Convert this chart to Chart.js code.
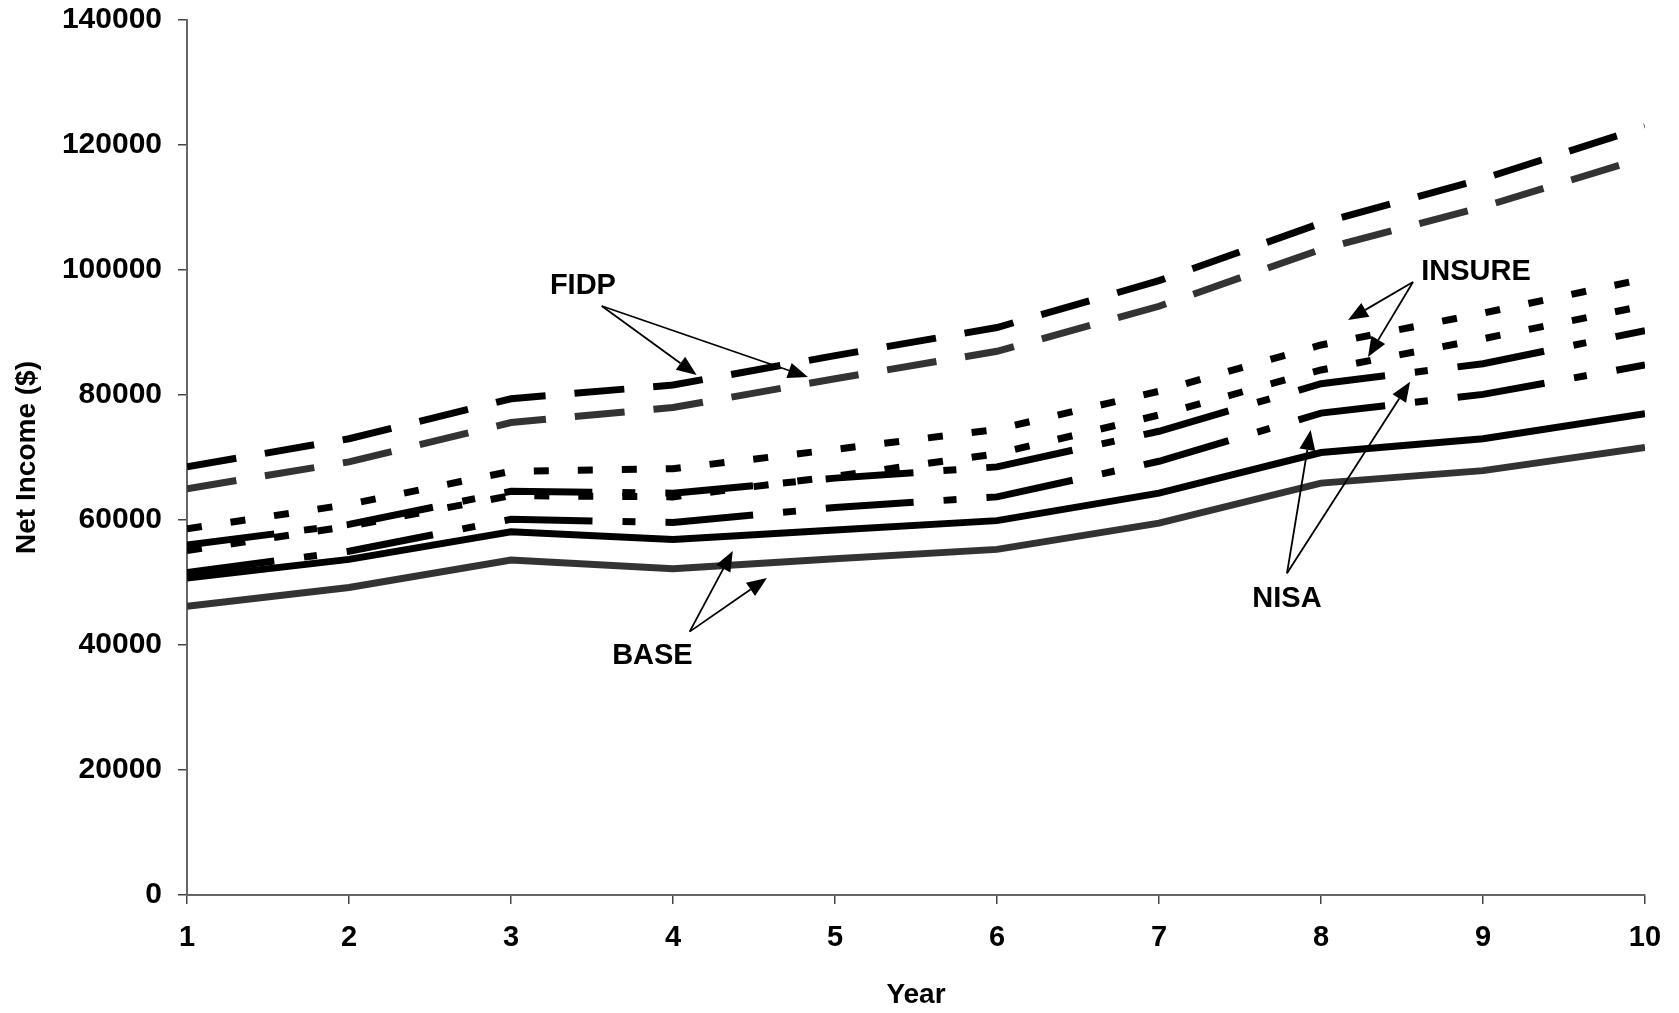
<!DOCTYPE html>
<html>
<head>
<meta charset="utf-8">
<script src="https://cdn.jsdelivr.net/npm/chart.js@4.4.1/dist/chart.umd.min.js"></script>
<style>
    html, body { margin: 0; padding: 0; background: #fff; }
    #wrap { width: 1679px; height: 1013px; }
</style>
</head>
<body>
<div id="wrap"><canvas id="incomeChart" width="1679" height="1013"></canvas></div>
<script>
// Net income by year, one array per scenario
const years = [1, 2, 3, 4, 5, 6, 7, 8, 9, 10];
const fidpHigh   = [68500, 73000, 79400, 81600, 86300, 90800, 98300, 107500, 114600, 122900];
const fidpLow    = [65000, 69300, 75600, 78000, 82600, 87000, 94200, 103300, 110100, 118000];
const insureHigh = [58600, 62500, 67800, 68200, 71300, 74500, 80600, 88000, 93100, 98600];
const insureLow  = [55100, 59000, 63900, 63700, 67000, 70600, 76800, 84000, 89000, 94300];
const nisaHigh   = [56000, 59300, 64600, 64300, 66700, 68500, 74200, 81800, 85000, 90300];
const nisaLow    = [51600, 55000, 60100, 59600, 62000, 63700, 69400, 77100, 80100, 84800];
const baseHigh   = [50700, 53700, 58100, 56900, 58400, 59900, 64300, 70800, 73000, 77000];
const baseLow    = [46200, 49200, 53600, 52200, 53800, 55300, 59500, 65900, 67900, 71600];
const yTicks = [0, 20000, 40000, 60000, 80000, 100000, 120000, 140000];

const FONT = '"Liberation Sans", Arial, sans-serif';
const BLACK = '#000000';
const GREY = '#333333';

function series(values, color, dash) {
    return {
        data: values.map((v, i) => ({ x: years[i], y: v })),
        borderColor: color,
        borderWidth: 7,
        borderDash: dash,
        borderCapStyle: 'butt',
        pointRadius: 0,
        tension: 0,
        fill: false
    };
}

// text labels with arrows, placed in data units (year, income)
const notes = [
    { text: 'FIDP',   at: [3.444, 97440], from: [3.56, 94240],  to: [[4.146, 83200], [4.833, 82880]] },
    { text: 'INSURE', at: [8.957, 99680], from: [8.568, 98080], to: [[8.167, 92000], [8.29, 86080]] },
    { text: 'NISA',   at: [7.79, 47440],  from: [7.79, 51470],  to: [[7.936, 74400], [8.55, 82130]] },
    { text: 'BASE',   at: [3.873, 38240], from: [4.103, 42140], to: [[4.369, 55040], [4.58, 50720]] }
];

const arrowNotes = {
    id: 'arrowNotes',
    afterDatasetsDraw(chart) {
        const { ctx, scales: { x, y } } = chart;
        ctx.save();
        ctx.fillStyle = '#000';
        ctx.strokeStyle = '#000';
        ctx.lineWidth = 1.8;
        ctx.font = 'bold 29px ' + FONT;
        ctx.textAlign = 'center';
        ctx.textBaseline = 'middle';
        notes.forEach(n => {
            ctx.fillText(n.text, x.getPixelForValue(n.at[0]), y.getPixelForValue(n.at[1]));
            const x0 = x.getPixelForValue(n.from[0]);
            const y0 = y.getPixelForValue(n.from[1]);
            n.to.forEach(t => {
                const x1 = x.getPixelForValue(t[0]);
                const y1 = y.getPixelForValue(t[1]);
                const ang = Math.atan2(y1 - y0, x1 - x0);
                const head = 20, half = 8;
                const bx = x1 - head * Math.cos(ang);
                const by = y1 - head * Math.sin(ang);
                ctx.beginPath();
                ctx.moveTo(x0, y0);
                ctx.lineTo(bx, by);
                ctx.stroke();
                ctx.beginPath();
                ctx.moveTo(x1, y1);
                ctx.lineTo(bx + half * Math.sin(ang), by - half * Math.cos(ang));
                ctx.lineTo(bx - half * Math.sin(ang), by + half * Math.cos(ang));
                ctx.closePath();
                ctx.fill();
            });
        });
        ctx.restore();
    }
};

const longDash = [50, 29];
const shortDash = [15, 29];
const dashDot = [88, 30, 13, 30];

const ctx = document.getElementById('incomeChart').getContext('2d');
const incomeChart = new Chart(ctx, {
    type: 'line',
    data: {
        datasets: [
            series(baseLow, GREY, []),
            series(baseHigh, BLACK, []),
            series(nisaLow, BLACK, dashDot),
            series(nisaHigh, BLACK, dashDot),
            series(insureLow, BLACK, shortDash),
            series(insureHigh, BLACK, shortDash),
            series(fidpLow, GREY, longDash),
            series(fidpHigh, BLACK, longDash)
        ]
    },
    options: {
        responsive: false,
        animation: false,
        devicePixelRatio: 1,
        layout: { padding: { top: 20, right: 34, left: 0, bottom: 0 } },
        plugins: { legend: { display: false }, tooltip: { enabled: false } },
        scales: {
            x: {
                type: 'linear',
                min: 1,
                max: 10,
                afterFit: scale => {
                    scale.height = 118;
                    scale.paddingLeft = 0;
                    scale.paddingRight = 0;
                },
                ticks: {
                    stepSize: 1,
                    color: '#000',
                    padding: 17,
                    font: { family: FONT, size: 29, weight: 'bold' }
                },
                grid: { drawOnChartArea: false, drawTicks: true, tickLength: 9, color: '#444', lineWidth: 1.5 },
                border: { display: true, color: '#666', width: 2 },
                title: {
                    display: true,
                    text: 'Year',
                    color: '#000',
                    padding: { top: 0, bottom: 1 },
                    font: { family: FONT, size: 28, weight: 'bold' }
                }
            },
            y: {
                min: 0,
                max: 140000,
                afterFit: scale => {
                    scale.width = 187;
                    scale.paddingTop = 0;
                    scale.paddingBottom = 0;
                },
                afterBuildTicks: scale => { scale.ticks = yTicks.map(v => ({ value: v })); },
                ticks: {
                    color: '#000',
                    padding: 16,
                    callback: v => String(v),
                    font: { family: FONT, size: 30, weight: 'bold' }
                },
                grid: { drawOnChartArea: false, drawTicks: true, tickLength: 9, color: '#444', lineWidth: 1.5 },
                border: { display: true, color: '#666', width: 2 },
                title: {
                    display: true,
                    text: 'Net Income ($)',
                    color: '#000',
                    padding: { top: 10, bottom: 0 },
                    font: { family: FONT, size: 28, weight: 'bold' }
                }
            }
        }
    },
    plugins: [arrowNotes]
});
</script>
</body>
</html>
